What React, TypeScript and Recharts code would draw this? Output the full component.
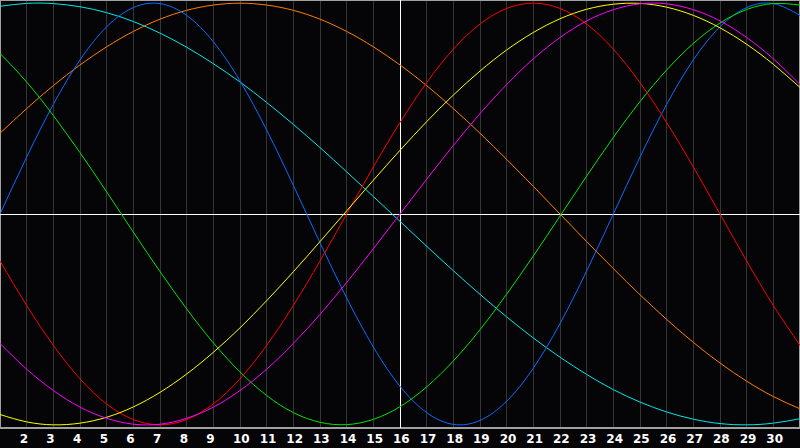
import { LineChart, Line, XAxis, YAxis, CartesianGrid, ReferenceLine, ReferenceArea } from "recharts";

const days = [1, 2, 3, 4, 5, 6, 7, 8, 9, 10, 11, 12, 13, 14, 15, 16, 17, 18, 19, 20, 21, 22, 23, 24, 25, 26, 27, 28, 29, 30, 31];
const tickDays = [2, 3, 4, 5, 6, 7, 8, 9, 10, 11, 12, 13, 14, 15, 16, 17, 18, 19, 20, 21, 22, 23, 24, 25, 26, 27, 28, 29, 30];

const blue = [0, 0.27, 0.52, 0.731, 0.888, 0.979, 0.998, 0.942, 0.817, 0.631, 0.398, 0.136, -0.136, -0.398, -0.631, -0.817, -0.942, -0.998, -0.979, -0.888, -0.731, -0.52, -0.27, 0, 0.27, 0.52, 0.731, 0.888, 0.979, 0.998, 0.942];
const orange = [0.383, 0.5, 0.609, 0.707, 0.793, 0.866, 0.924, 0.966, 0.991, 1, 0.991, 0.966, 0.924, 0.866, 0.793, 0.707, 0.609, 0.5, 0.383, 0.259, 0.131, 0, -0.131, -0.259, -0.383, -0.5, -0.609, -0.707, -0.793, -0.866, -0.924];
const cyan = [0.985, 0.999, 0.998, 0.983, 0.955, 0.913, 0.858, 0.791, 0.713, 0.626, 0.529, 0.425, 0.315, 0.2, 0.083, -0.035, -0.153, -0.269, -0.381, -0.488, -0.588, -0.679, -0.761, -0.833, -0.892, -0.939, -0.973, -0.994, -1, -0.992, -0.971];
const red = [-0.223, -0.434, -0.623, -0.782, -0.901, -0.975, -1, -0.975, -0.901, -0.782, -0.623, -0.434, -0.223, 0, 0.223, 0.434, 0.623, 0.782, 0.901, 0.975, 1, 0.975, 0.901, 0.782, 0.623, 0.434, 0.223, 0, -0.223, -0.434, -0.623];
const yellow = [-0.951, -0.986, -1, -0.992, -0.964, -0.915, -0.846, -0.759, -0.656, -0.54, -0.411, -0.274, -0.131, 0.015, 0.16, 0.302, 0.438, 0.564, 0.678, 0.778, 0.861, 0.926, 0.971, 0.995, 0.999, 0.981, 0.942, 0.883, 0.805, 0.71, 0.6];
const magenta = [-0.614, -0.736, -0.837, -0.916, -0.969, -0.997, -0.997, -0.969, -0.916, -0.837, -0.736, -0.614, -0.476, -0.325, -0.165, 0, 0.165, 0.325, 0.476, 0.614, 0.736, 0.837, 0.916, 0.969, 0.997, 0.997, 0.969, 0.916, 0.837, 0.736, 0.614];
const green = [0.762, 0.626, 0.467, 0.291, 0.105, -0.086, -0.273, -0.45, -0.611, -0.749, -0.861, -0.942, -0.988, -0.999, -0.974, -0.914, -0.82, -0.697, -0.549, -0.38, -0.199, -0.01, 0.18, 0.363, 0.533, 0.683, 0.809, 0.906, 0.97, 0.998, 0.991];

const data = days.map((day, i) => ({
  day,
  blue: blue[i],
  orange: orange[i],
  cyan: cyan[i],
  red: red[i],
  yellow: yellow[i],
  magenta: magenta[i],
  green: green[i],
}));

const series = [
  { key: "cyan", color: "#00e8e8" },
  { key: "orange", color: "#ff7f00" },
  { key: "blue", color: "#0a6cff" },
  { key: "green", color: "#00e600" },
  { key: "red", color: "#ff0000" },
  { key: "yellow", color: "#ffff00" },
  { key: "magenta", color: "#ff00ff" },
];

const DayTick = (props: any) => (
  <text
    x={props.x - 7}
    y={443}
    textAnchor="start"
    fill="#ffffff"
    fontFamily="DejaVu Sans"
    fontWeight="bold"
    fontSize={12}
  >
    {props.payload.value}
  </text>
);

export default function App() {
  return (
    <div style={{ position: "fixed", left: 0, top: 0, width: 800, height: 448, background: "#050508" }}>
      <LineChart width={800} height={448} data={data} margin={{ top: 0, right: 0, bottom: 0, left: 0 }}>
        <CartesianGrid horizontal={false} stroke="#363636" shapeRendering="crispEdges" />
        <XAxis
          dataKey="day"
          type="number"
          domain={[1, 31]}
          ticks={tickDays}
          interval={0}
          height={20}
          tickLine={false}
          axisLine={{ stroke: "#a0a0a0", shapeRendering: "crispEdges" }}
          tick={<DayTick />}
        />
        <YAxis hide domain={[-1.015, 1.015]} />
        <ReferenceArea x1={1} x2={31} y1={-1.015} y2={1.015} fill="none" stroke="#a0a0a0" strokeWidth={2} />
        <ReferenceLine x={16} stroke="#ffffff" shapeRendering="crispEdges" />
        <ReferenceLine y={0} stroke="#ffffff" shapeRendering="crispEdges" />
        {series.map((s) => (
          <Line
            key={s.key}
            dataKey={s.key}
            type="natural"
            stroke={s.color}
            strokeWidth={1}
            dot={false}
            activeDot={false}
            isAnimationActive={false}
          />
        ))}
      </LineChart>
    </div>
  );
}
